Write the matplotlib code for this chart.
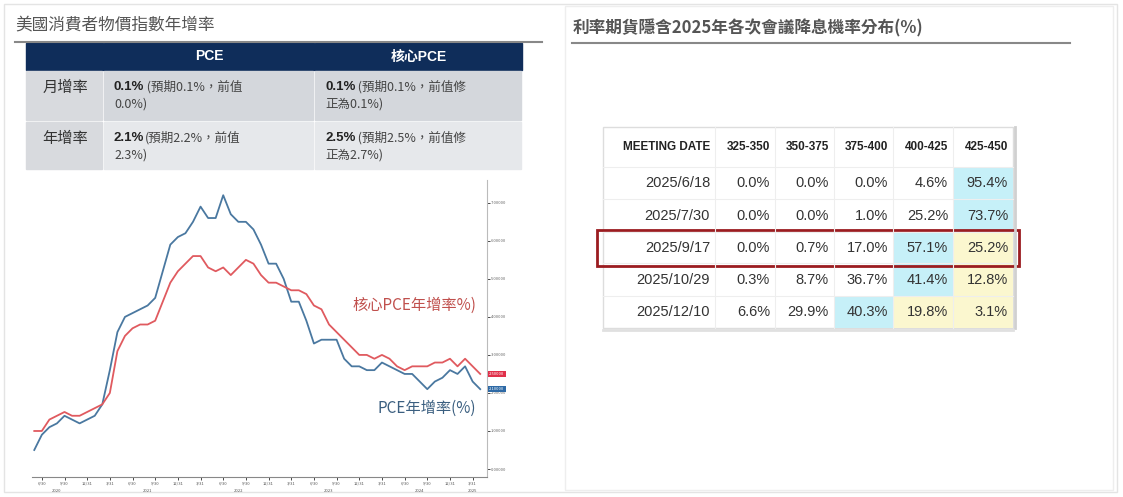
import matplotlib
matplotlib.use("Agg")
import matplotlib.pyplot as plt
from matplotlib.patches import Rectangle

plt.rcParams["font.family"] = ["Noto Sans CJK TC", "DejaVu Sans"]

# ── data ────────────────────────────────────────────────────────────────
# monthly YoY, 2020-05 .. 2025-04
pce = [0.5, 0.9, 1.1, 1.2, 1.4, 1.3, 1.2, 1.3,
       1.4, 1.7, 2.6, 3.6, 4.0, 4.1, 4.2, 4.3, 4.5, 5.2, 5.9, 6.1,
       6.2, 6.5, 6.9, 6.6, 6.6, 7.2, 6.7, 6.5, 6.5, 6.3, 5.9, 5.4,
       5.4, 5.0, 4.4, 4.4, 3.9, 3.3, 3.4, 3.4, 3.4, 2.9, 2.7, 2.7,
       2.6, 2.6, 2.8, 2.7, 2.6, 2.5, 2.5, 2.3, 2.1, 2.3, 2.4, 2.6,
       2.5, 2.7, 2.3, 2.1]
core = [1.0, 1.0, 1.3, 1.4, 1.5, 1.4, 1.4, 1.5,
        1.6, 1.7, 2.0, 3.1, 3.5, 3.7, 3.8, 3.8, 3.9, 4.4, 4.9, 5.2,
        5.4, 5.6, 5.6, 5.3, 5.2, 5.3, 5.1, 5.3, 5.5, 5.4, 5.1, 4.9,
        4.9, 4.8, 4.7, 4.7, 4.6, 4.3, 4.2, 3.8, 3.6, 3.4, 3.2, 3.0,
        3.0, 2.9, 3.0, 2.9, 2.7, 2.6, 2.7, 2.7, 2.7, 2.8, 2.8, 2.9,
        2.7, 2.9, 2.7, 2.5]
yticks = [0, 1, 2, 3, 4, 5, 6, 7]
qlabels = ["6/30", "9/30", "12/31", "3/31"]

left_title = "美國消費者物價指數年增率"
left_cols = ["", "PCE", "核心PCE"]
left_rows = ["月增率", "年增率"]
left_bold = [["0.1%", "0.1%"], ["2.1%", "2.5%"]]
left_line1 = [[" (預期0.1%，前值", " (預期0.1%，前值修"],
              ["(預期2.2%，前值", " (預期2.5%，前值修"]]
left_line2 = [["0.0%)", "正為0.1%)"], ["2.3%)", "正為2.7%)"]]

right_title = "利率期貨隱含2025年各次會議降息機率分布(%)"
meet_cols = ["MEETING DATE", "325-350", "350-375", "375-400", "400-425", "425-450"]
meet_dates = ["2025/6/18", "2025/7/30", "2025/9/17", "2025/10/29", "2025/12/10"]
probs = [[0.0, 0.0, 0.0, 4.6, 95.4],
         [0.0, 0.0, 1.0, 25.2, 73.7],
         [0.0, 0.7, 17.0, 57.1, 25.2],
         [0.3, 8.7, 36.7, 41.4, 12.8],
         [6.6, 29.9, 40.3, 19.8, 3.1]]
# cell shading: c = cyan, y = yellow
shade = ["....c", "....c", "...cy", "...cy", "..cyy"]

W, H = 1123, 497
fig = plt.figure(figsize=(W / 100, H / 100), dpi=100)
bg = fig.add_axes([0, 0, 1, 1])
bg.set_xlim(0, W)
bg.set_ylim(H, 0)
bg.axis("off")

# outer frames
bg.add_patch(Rectangle((4, 4), W - 10, H - 9, fill=False, ec="#e4e4e4", lw=1))
bg.add_patch(Rectangle((565, 6), 548, H - 13, fill=False, ec="#eeeeee", lw=1))

# ── left header + table ────────────────────────────────────────────────
bg.text(15, 26, left_title, fontsize=12, color="#555555", va="center")
bg.plot([15, 542], [42, 42], color="#888888", lw=1.5)
xs = [26, 104, 315, 523]
ys = [43, 70, 121, 170]
for j in range(3):
    bg.add_patch(Rectangle((xs[j], ys[0]), xs[j + 1] - xs[j] - 1, ys[1] - ys[0],
                           color="#0f2d5a"))
    bg.text((xs[j] + xs[j + 1]) / 2, (ys[0] + ys[1]) / 2, left_cols[j], color="white",
            fontsize=10, fontweight="bold", ha="center", va="center",
            fontfamily=["Liberation Sans", "Noto Sans CJK TC"])
row_col = ["#d4d7dc", "#e6e8eb"]
for i in range(2):
    for j in range(3):
        bg.add_patch(Rectangle((xs[j], ys[i + 1] + 1), xs[j + 1] - xs[j] - 2,
                               ys[i + 2] - ys[i + 1] - 2,
                               color=row_col[i] if j else "#d8dade"))
    bg.text(65, ys[i + 1] + 17, left_rows[i], fontsize=11, ha="center", va="center",
            color="#333333")
    for j in range(2):
        x0 = xs[j + 1] + 10
        t = bg.text(x0, ys[i + 1] + 17, left_bold[i][j], fontsize=9.5,
                    fontweight="bold", va="center", color="#222222",
                    fontfamily="Liberation Sans")
        bg.annotate(left_line1[i][j], xy=(1, 0.5), xycoords=t, va="center", ha="left",
                    fontsize=9, color="#444444")
        bg.text(x0, ys[i + 1] + 34, left_line2[i][j], fontsize=9, va="center",
                color="#444444")

# ── line chart ─────────────────────────────────────────────────────────
ax = fig.add_axes([32 / W, 1 - 477 / H, (487 - 32) / W, (477 - 180) / H])
x = list(range(len(pce)))
ax.plot(x, pce, color="#4a78a0", lw=1.3)
ax.plot(x, core, color="#e05a5f", lw=1.3)
ax.set_xlim(-0.3, 59.9)
ax.set_ylim(-0.21, 7.6)
for s in ["top", "left"]:
    ax.spines[s].set_visible(False)
ax.spines["right"].set_color("#bbbbbb")
ax.spines["bottom"].set_color("#888888")
ax.yaxis.tick_right()
ax.set_yticks(yticks)
ax.set_yticklabels([f"{v:.5f}" for v in yticks], fontsize=3, color="#666666")
ax.tick_params(axis="y", length=2, width=0.5, pad=1)
qpos = list(range(1, 60, 3))
ax.set_xticks(qpos)
ax.set_xticklabels([qlabels[k % 4] for k in range(len(qpos))], fontsize=3,
                   color="#555555")
ax.tick_params(axis="x", length=2, width=0.5, pad=1)
for k, yr in enumerate(["2020", "2021", "2022", "2023", "2024", "2025"]):
    ax.text(min(k * 12 + 3, 58), -0.6, yr, fontsize=3, ha="center", color="#555555",
            clip_on=False)
ax.text(58.5, 4.3, "核心PCE年增率%)", color="#c0504d", fontsize=11, ha="right",
        va="center")
ax.text(58.5, 1.6, "PCE年增率(%)", color="#3b5f80", fontsize=11, ha="right",
        va="center")
ax.text(61.2, core[-1], f"{core[-1]:.5f}", fontsize=3, color="white", ha="center",
        va="center", clip_on=False,
        bbox=dict(boxstyle="square,pad=0.3", fc="#e0304a", ec="none"))
ax.text(61.2, pce[-1], f"{pce[-1]:.5f}", fontsize=3, color="white", ha="center",
        va="center", clip_on=False,
        bbox=dict(boxstyle="square,pad=0.3", fc="#2e6aa6", ec="none"))

# ── right header + table ───────────────────────────────────────────────
bg.text(573, 28, right_title, fontsize=12, color="#555555", va="center",
        fontweight="bold")
bg.plot([572, 1070], [43, 43], color="#888888", lw=1.5)
cx = [603, 715, 775, 834, 893, 953, 1013]
ry = [127, 167, 199, 232, 263, 296, 328]
bg.add_patch(Rectangle((cx[0], ry[0]), cx[-1] - cx[0], ry[-1] - ry[0],
                       fc="white", ec="#dddddd", lw=1))
bg.plot([cx[-1] + 2, cx[-1] + 2], [ry[0], ry[-1]], color="#d0d0d0", lw=2)
bg.plot([cx[0], cx[-1]], [ry[-1] + 1.5, ry[-1] + 1.5], color="#e0e0e0", lw=2)
for j in range(6):
    bg.text(cx[j + 1] - 5, (ry[0] + ry[1]) / 2, meet_cols[j], fontsize=8.5,
            fontweight="bold", ha="right", va="center", color="#222222",
            fontfamily="Liberation Sans")
for i, row in enumerate(probs):
    for j, v in enumerate(row):
        fc = {"c": "#c6f0f8", "y": "#fbf7cf"}.get(shade[i][j])
        if fc:
            bg.add_patch(Rectangle((cx[j + 1], ry[i + 1]), cx[j + 2] - cx[j + 1],
                                   ry[i + 2] - ry[i + 1], color=fc, lw=0))
        bg.text(cx[j + 2] - 5, (ry[i + 1] + ry[i + 2]) / 2, f"{v:.1f}%", fontsize=10.5,
                ha="right", va="center", color="#333333",
                fontfamily="Liberation Sans")
    bg.text(cx[1] - 5, (ry[i + 1] + ry[i + 2]) / 2, meet_dates[i], fontsize=10.5,
            ha="right", va="center", color="#333333", fontfamily="Liberation Sans")
for yy in ry[1:-1]:
    bg.plot([cx[0], cx[-1]], [yy, yy], color="#eeeeee", lw=0.8)
for xx in cx[1:-1]:
    bg.plot([xx, xx], [ry[0], ry[-1]], color="#eeeeee", lw=0.8)
bg.add_patch(Rectangle((597, 230), 1019 - 597, 36, fill=False, ec="#9b1c20", lw=2))

fig.savefig("out.png", dpi=100)
